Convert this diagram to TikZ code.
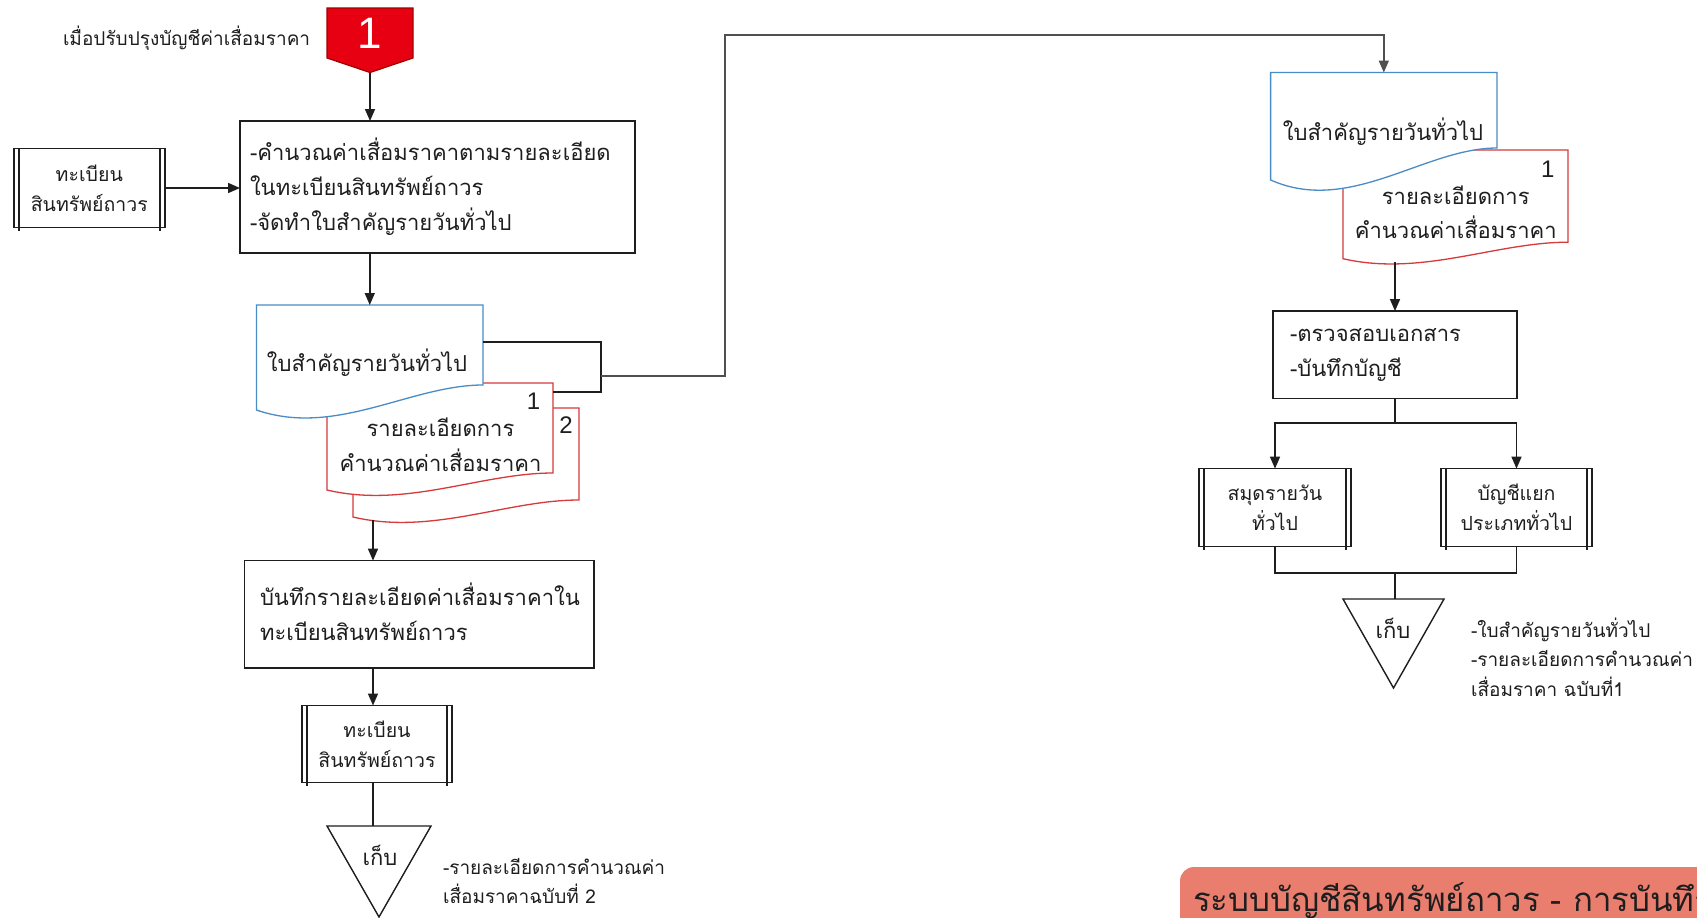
\documentclass[tikz,border=0pt]{standalone}
\usepackage{fontspec}
\setmainfont[Script=Thai]{Loma}
\newfontfamily\numfont{Liberation Sans}
\usetikzlibrary{arrows.meta,calc}
\pgfdeclarelayer{background}
\pgfsetlayers{background,main}
\definecolor{docblue}{HTML}{4A8CC6}
\definecolor{docred}{HTML}{D63A3A}
\definecolor{salmon}{HTML}{E97E6E}
\definecolor{pentred}{HTML}{E60012}
\definecolor{pentedge}{HTML}{A00000}
\definecolor{linegray}{HTML}{505050}
\definecolor{ink}{HTML}{1E1E1E}

\newcommand\docshape[3]{%
  \draw[#2, line width=1.3pt, fill=white] let \p1=(#1.north west), \p2=(#1.south east), \n1={\x2-\x1} in
    (\x1,\y1) -- (\x2,\y1) -- (\x2,\y2+#3pt)
    .. controls (\x1+0.68*\n1,\y2+#3pt) and (\x1+0.35*\n1,\y2-1.1*#3pt) .. (\x1,\y2) -- cycle;}
\newcommand\reglines[1]{%
  \draw[ln] ($(#1.north west)+(5,0)$) -- ($(#1.south west)+(5,3)$);
  \draw[ln] ($(#1.north east)+(-5,0)$) -- ($(#1.south east)+(-5,3)$);}

\tikzset{
  every node/.style={inner sep=0pt, outer sep=0pt, text=ink},
  box/.style={draw=ink, line width=1.6pt, rectangle},
  ln/.style={draw=ink, line width=1.6pt},
  arr/.style={draw=ink, line width=1.6pt, -{Triangle[length=12pt,width=10pt]}},
  geom/.style={rectangle, draw=none},
  txtM/.style={font=\fontsize{22}{35}\selectfont},
  txtR/.style={font=\fontsize{19.5}{30}\selectfont},
  txtS/.style={font=\fontsize{19}{29.5}\selectfont},
  numS/.style={font=\numfont\fontsize{24}{28}\selectfont},
}

\begin{document}
\begin{tikzpicture}[x=1pt,y=-1pt]
\useasboundingbox (0,0) rectangle (1697,918);
\begin{pgfonlayer}{background}
\fill[white] (0,0) rectangle (1697,918);
\end{pgfonlayer}

% ---------- left column ----------
\node[txtS, anchor=west] (lbl) at (63,38) {เมื่อปรับปรุงบัญชีค่าเสื่อมราคา};
\node[geom, minimum width=86pt, minimum height=50pt, font=\numfont\fontsize{44}{48}\selectfont, text=white] (pent) at (370,33) {1};
\coordinate (pentTip) at (370,72.5);
\begin{pgfonlayer}{background}
\draw[fill=pentred, draw=pentedge, line width=1.2pt] (pent.north west) -- (pent.north east) -- (pent.south east) -- (pentTip) -- (pent.south west) -- cycle;
\end{pgfonlayer}

\node[box, minimum width=395pt, minimum height=132pt, text width=375pt, align=left, txtM] (boxA) at (437.5,187)
  {-คำนวณค่าเสื่อมราคาตามรายละเอียด\\ในทะเบียนสินทรัพย์ถาวร\\-จัดทำใบสำคัญรายวันทั่วไป};
\node[box, minimum width=151pt, minimum height=79pt, align=center, txtR] (reg1) at (89.3,188) {ทะเบียน\\สินทรัพย์ถาวร};
\reglines{reg1}

% documents (left)
\node[geom, minimum width=226.5pt, minimum height=105pt] (docL) at (369.75,357.5) {};
\node[geom, minimum width=226pt, minimum height=107pt] (docL1) at (440,436.5) {};
\node[geom, minimum width=226pt, minimum height=109pt] (docL2) at (466,462.5) {};
\begin{pgfonlayer}{background}
\docshape{docL2}{docred}{17}
\docshape{docL1}{docred}{17}
\docshape{docL}{docblue}{25}
\end{pgfonlayer}
\node[txtM] (docLt) at (367,362.6) {ใบสำคัญรายวันทั่วไป};
\node[align=center, font=\fontsize{22}{34.5}\selectfont] (docL1t) at (440.5,444.8) {รายละเอียดการ\\คำนวณค่าเสื่อมราคา};
\node[numS] (n1L) at (533.6,401.5) {1};
\node[numS] (n2L) at (566,425) {2};

\coordinate (brA) at (483,342);
\coordinate (brC) at (601,392);
\coordinate (brD) at (553,392);
\coordinate (brM) at (601,376);
\draw[ln] (brA) -| (brC) -- (brD);

\coordinate (r2bot) at (373,519.5);
\node[box, minimum width=349.4pt, minimum height=107.4pt] (boxB) at (419.3,614.3) {};
\node[txtM, anchor=west, align=left] (boxBt) at (260,612) {บันทึกรายละเอียดค่าเสื่อมราคาใน\\ทะเบียนสินทรัพย์ถาวร};
\node[box, minimum width=150.4pt, minimum height=77pt, align=center, txtR] (reg2) at (377,744) {ทะเบียน\\สินทรัพย์ถาวร};
\reglines{reg2}
\node[geom, minimum width=104pt, minimum height=91pt] (triL) at (379,871.5) {};
\draw[ln, line width=1.4pt] (triL.north west) -- (triL.north east) -- (triL.south) -- cycle;
\node[txtM] (triLt) at (380,855) {เก็บ};
\node[txtS, anchor=west, align=left] (noteL) at (443,881) {-รายละเอียดการคำนวณค่า\\เสื่อมราคาฉบับที่ 2};

\draw[arr] (pentTip) -- (pentTip |- boxA.north);
\draw[arr] (reg1.east) -- (reg1.east -| boxA.west);
\draw[arr] (docL.north |- boxA.south) -- (docL.north);
\draw[arr] (r2bot) -- (r2bot |- boxB.north);
\draw[arr] (boxB.south -| r2bot) -- (reg2.north -| r2bot);
\draw[ln] (reg2.south -| r2bot) -- (triL.north -| r2bot);

% ---------- right column ----------
\node[geom, minimum width=226.4pt, minimum height=107.5pt] (docR) at (1383.8,126.25) {};
\node[geom, minimum width=225pt, minimum height=108.7pt] (docR1) at (1455.5,204.35) {};
\begin{pgfonlayer}{background}
\docshape{docR1}{docred}{16.5}
\docshape{docR}{docblue}{32}
\end{pgfonlayer}
\node[txtM] (docRt) at (1383,132) {ใบสำคัญรายวันทั่วไป};
\node[align=center, font=\fontsize{22}{34.5}\selectfont] (docR1t) at (1455.7,212) {รายละเอียดการ\\คำนวณค่าเสื่อมราคา};
\node[numS] (n1R) at (1547.7,169) {1};

\coordinate (bend1) at (725,376);
\coordinate (bend2) at (725,35);
\draw[arr, draw=linegray] (brM) -- (bend1) -- (bend2) -| (docR.north);

\coordinate (rRbot) at (1395,262);
\node[box, minimum width=244pt, minimum height=87.5pt, text width=210pt, align=left, txtM] (boxC) at (1395,354.8) {-ตรวจสอบเอกสาร\\-บันทึกบัญชี};
\draw[arr] (rRbot) -- (boxC.north);

\node[box, minimum width=152pt, minimum height=78pt, align=center, txtR] (boxD) at (1275,507.6) {สมุดรายวัน\\ทั่วไป};
\reglines{boxD}
\node[box, minimum width=151pt, minimum height=78pt, align=center, txtR] (boxE) at (1516.5,507.6) {บัญชีแยก\\ประเภททั่วไป};
\reglines{boxE}
\coordinate (splitC) at (1395,423);
\coordinate (joinC) at (1395,573);
\draw[ln] (boxC.south) -- (splitC);
\draw[arr] (splitC) -| (boxD.north);
\draw[arr] (splitC) -| (boxE.north);
\draw[ln] (boxD.south) |- (joinC);
\draw[ln] (boxE.south) |- (joinC);

\node[geom, minimum width=101pt, minimum height=89pt] (triR) at (1393.5,643.5) {};
\draw[ln, line width=1.4pt] (triR.north west) -- (triR.north east) -- (triR.south) -- cycle;
\draw[ln] (joinC) -- (triR.north -| joinC);
\node[txtM] (triRt) at (1393,628) {เก็บ};
\node[txtS, anchor=west, align=left] (noteR) at (1471,657) {-ใบสำคัญรายวันทั่วไป\\-รายละเอียดการคำนวณค่า\\เสื่อมราคา ฉบับที่1};

% ---------- title banner ----------
\node[fill=salmon, rounded corners=14pt, minimum width=600pt, minimum height=80pt, anchor=north west] (banner) at (1180,867) {};
\node[anchor=west, font=\fontsize{33}{38}\selectfont] (bannert) at (1193,901) {ระบบบัญชีสินทรัพย์ถาวร - การบันทึก};
\end{tikzpicture}
\end{document}
